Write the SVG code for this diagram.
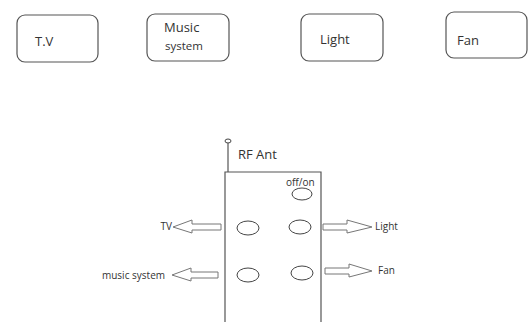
<svg xmlns="http://www.w3.org/2000/svg" width="528" height="322" viewBox="0 0 528 322">
<style>
.box{fill:#fff;stroke:#555;stroke-width:1.2}
.t{font-family:"Open Sans","Liberation Sans",sans-serif;fill:#333}
.big{font-size:13px}
.sm{font-size:10px}
.btn{fill:#fff;stroke:#444;stroke-width:1}
.arr{fill:#fff;stroke:#777;stroke-width:1}
.line{stroke:#555;stroke-width:1.2;fill:none}
</style>
<rect width="528" height="322" fill="#fff"/>
<g id="tv"><rect class="box" x="17" y="15" width="81" height="47" rx="8"/><text class="t big" x="35" y="46">T.V</text></g>
<g id="music"><rect class="box" x="147" y="14" width="82" height="47" rx="8"/><text class="t big" x="164" y="32">Music</text><text class="t" x="165" y="50" font-size="11.5">system</text></g>
<g id="light"><rect class="box" x="301" y="14" width="82" height="47" rx="8"/><text class="t big" x="320" y="44">Light</text></g>
<g id="fan"><rect class="box" x="446" y="12" width="81" height="46" rx="8"/><text class="t big" x="457" y="45">Fan</text></g>
<g id="remote">
<ellipse class="btn" cx="228" cy="141" rx="3" ry="2"/>
<line class="line" x1="228" y1="143" x2="228" y2="172"/>
<path class="line" d="M225,322 V172 H321 V322"/>
<text class="t" x="238" y="159" font-size="13">RF Ant</text>
<text class="t" x="286" y="186" font-size="10">off/on</text>
<ellipse class="btn" cx="302" cy="194" rx="10" ry="6"/>
<ellipse class="btn" cx="248" cy="228" rx="11" ry="7"/>
<ellipse class="btn" cx="300" cy="227" rx="11" ry="7"/>
<ellipse class="btn" cx="248" cy="275" rx="11" ry="7"/>
<ellipse class="btn" cx="302" cy="273" rx="11" ry="7"/>
</g>
<g id="connectors">
<path class="arr" d="M221,224 H192 V220 L173,227 L192,233 V230 H221 Z"/>
<path class="arr" d="M218,272 H191 V268 L172,275 L191,281 V278 H218 Z"/>
<path class="arr" d="M323,224 H347 V220 L372,227 L347,233 V230 H323 Z"/>
<path class="arr" d="M325,268 H349 V264 L372,271 L349,277 V274 H325 Z"/>
</g>
<text class="t sm" x="172" y="230" text-anchor="end">TV</text>
<text class="t sm" x="165" y="279" text-anchor="end">music system</text>
<text class="t sm" x="375" y="230">Light</text>
<text class="t sm" x="378" y="274">Fan</text>
</svg>
